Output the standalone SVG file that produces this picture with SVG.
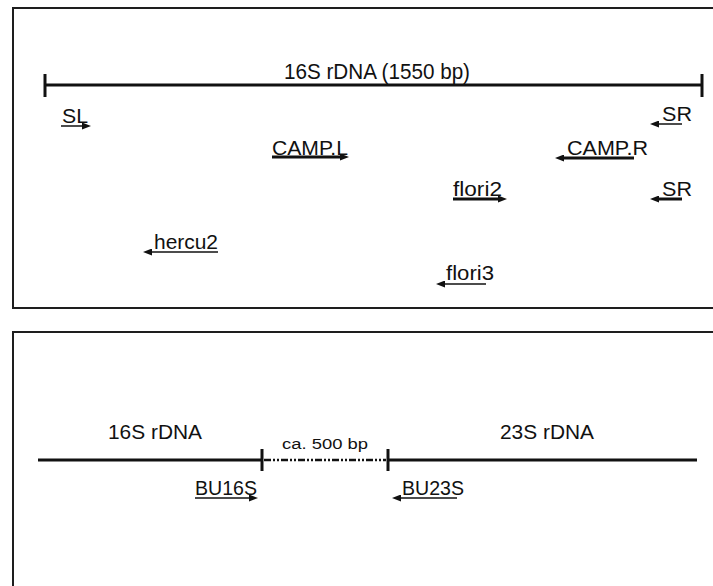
<svg xmlns="http://www.w3.org/2000/svg" width="713" height="586" viewBox="0 0 713 586">
<style>
  .frame{fill:none;stroke:#1e1e1e;stroke-width:2}
  .dna{stroke:#111;stroke-width:3;fill:none}
  .tick{stroke:#111;stroke-width:3}
  .gap{stroke:#111;stroke-width:2.5;stroke-dasharray:7,2,2,2,2,2}
  .lbl{font-family:"Liberation Sans",Arial,sans-serif;fill:#111}
  .thin{stroke:#111;stroke-width:1.5;fill:none}
  .thick{stroke:#111;stroke-width:3;fill:none}
</style>
<defs>
  <marker id="ah" viewBox="0 0 9 7" markerWidth="9" markerHeight="7" refX="1" refY="3.5" orient="auto" markerUnits="userSpaceOnUse">
    <path d="M0,0 L9,3.5 L0,7 z" fill="#111"/>
  </marker>
</defs>
<rect width="713" height="586" fill="#fff"/>
<g id="frame-top"><path class="frame" d="M720,8 H13 V308 H720"/></g>
<g id="frame-bottom"><path class="frame" d="M720,332 H13 V600"/></g>

<g id="gene-16S">
  <line class="dna" x1="45" y1="85" x2="702" y2="85"/>
  <line class="tick" x1="45" y1="74" x2="45" y2="97"/>
  <line class="tick" x1="702" y1="74" x2="702" y2="97"/>
  <text class="lbl" x="284" y="79" font-size="21.5" textLength="186" lengthAdjust="spacingAndGlyphs">16S rDNA (1550 bp)</text>
</g>

<g id="operon">
  <line class="dna" x1="38" y1="460" x2="262" y2="460"/>
  <line class="dna" x1="388" y1="460" x2="697" y2="460"/>
  <line class="gap" x1="264" y1="460" x2="386" y2="460"/>
  <line class="tick" x1="262" y1="449" x2="262" y2="471"/>
  <line class="tick" x1="388" y1="449" x2="388" y2="471"/>
  <text class="lbl" x="108" y="439" font-size="20.5" textLength="94" lengthAdjust="spacingAndGlyphs">16S rDNA</text>
  <text class="lbl" x="500" y="439" font-size="20.5" textLength="94" lengthAdjust="spacingAndGlyphs">23S rDNA</text>
  <text class="lbl" x="282" y="449" font-size="15.5" textLength="86" lengthAdjust="spacingAndGlyphs">ca. 500 bp</text>
</g>

<g id="connectors">
  <line class="thin" x1="61" y1="126" x2="83" y2="126" marker-end="url(#ah)"/>
  <line class="thin" x1="682" y1="124" x2="658" y2="124" marker-end="url(#ah)"/>
  <line class="thick" x1="272" y1="157" x2="341" y2="157" marker-end="url(#ah)"/>
  <line class="thick" x1="634" y1="158" x2="563" y2="158" marker-end="url(#ah)"/>
  <line class="thick" x1="453" y1="199" x2="499" y2="199" marker-end="url(#ah)"/>
  <line class="thick" x1="682" y1="199" x2="658" y2="199" marker-end="url(#ah)"/>
  <line class="thin" x1="218" y1="252" x2="151" y2="252" marker-end="url(#ah)"/>
  <line class="thin" x1="486" y1="284" x2="444" y2="284" marker-end="url(#ah)"/>
  <line class="thin" x1="195" y1="498" x2="250" y2="498" marker-end="url(#ah)"/>
  <line class="thin" x1="457" y1="498" x2="400" y2="498" marker-end="url(#ah)"/>
</g>

<g id="SL"><text class="lbl" x="62" y="123" font-size="20" textLength="26" lengthAdjust="spacingAndGlyphs">SL</text></g>
<g id="SR1"><text class="lbl" x="662" y="121" font-size="20" textLength="30" lengthAdjust="spacingAndGlyphs">SR</text></g>
<g id="CAMP-L"><text class="lbl" x="272" y="155" font-size="20" textLength="76" lengthAdjust="spacingAndGlyphs">CAMP.L</text></g>
<g id="CAMP-R"><text class="lbl" x="567" y="155" font-size="20" textLength="81" lengthAdjust="spacingAndGlyphs">CAMP.R</text></g>
<g id="flori2"><text class="lbl" x="453" y="196" font-size="20" textLength="49" lengthAdjust="spacingAndGlyphs">flori2</text></g>
<g id="SR2"><text class="lbl" x="662" y="196" font-size="20" textLength="30" lengthAdjust="spacingAndGlyphs">SR</text></g>
<g id="hercu2"><text class="lbl" x="154" y="249" font-size="20" textLength="64" lengthAdjust="spacingAndGlyphs">hercu2</text></g>
<g id="flori3"><text class="lbl" x="446" y="280" font-size="20" textLength="48" lengthAdjust="spacingAndGlyphs">flori3</text></g>
<g id="BU16S"><text class="lbl" x="195" y="495" font-size="20" textLength="62" lengthAdjust="spacingAndGlyphs">BU16S</text></g>
<g id="BU23S"><text class="lbl" x="402" y="495" font-size="20" textLength="62" lengthAdjust="spacingAndGlyphs">BU23S</text></g>
</svg>
